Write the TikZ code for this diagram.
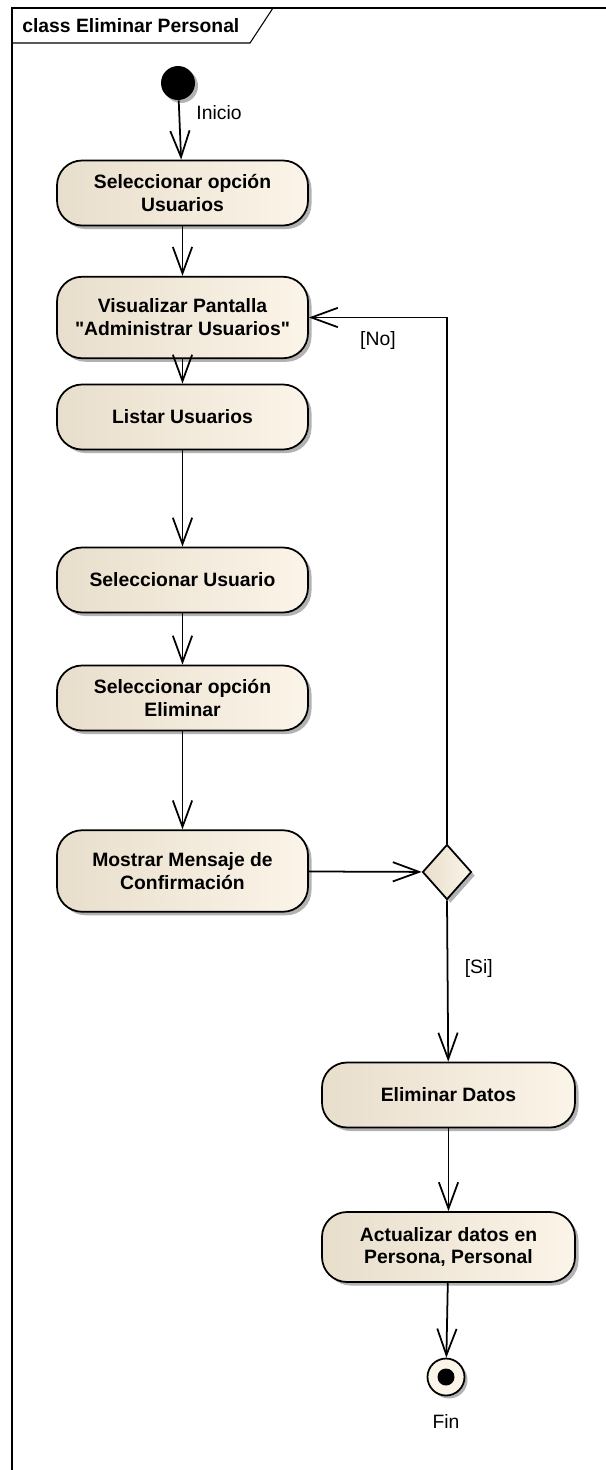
\documentclass[tikz,border=0pt]{standalone}
\usepackage{fontspec}
\setmainfont{Liberation Sans}[Ligatures=TeXOff]
\usepackage{tikz}
\usetikzlibrary{
	shapes, arrows.meta, shadows,
	positioning, calc
}
\definecolor{actleft}{RGB}{232,222,204}
\definecolor{actright}{RGB}{251,244,232}
\tikzstyle{act} = [rectangle, draw, line width=1pt, rounded corners=0.5cm,
	left color=actleft, right color=actright,
	drop shadow={shadow xshift=0.07cm, shadow yshift=-0.07cm, fill=black!30, opacity=1},
	minimum width=5.02cm, minimum height=1.3cm, align=center,
	font=\fontsize{11}{13}\selectfont\bfseries]
\tikzstyle{tall} = [minimum height=1.63cm]
\tikzstyle{line} = [draw, line width=1pt, -{Straight Barb[length=15pt,width=11pt,line width=1pt]}]
\tikzstyle{lbl} = [font=\fontsize{11}{13}\selectfont]

\begin{document}
\begin{tikzpicture}
    \useasboundingbox (0,0) rectangle (12.12,-29.4);
    %%% Frame:
    \draw[line width=0.6pt] (0.24,-29.4) -- (0.24,-0.16) -- (12.12,-0.16);
    \draw[line width=0.6pt] (0.24,-0.86) -- (5.0,-0.86) -- (5.46,-0.16);
    \node[anchor=west, inner sep=0, font=\fontsize{11}{13}\selectfont\bfseries] (title) at (0.44,-0.52) {class Eliminar Personal};
    %%% Start:
    \node[circle, fill=black, minimum size=0.68cm, inner sep=0,
      drop shadow={shadow xshift=0.06cm, shadow yshift=-0.06cm, fill=black!30, opacity=1}] (init) at (3.56,-1.66) {};
    %%% Left column:
    \node[act] (sel) at (3.65,-3.86) {Seleccionar opción\\Usuarios};
    \node[act, tall] (vis) at (3.65,-6.35) {Visualizar Pantalla\\"Administrar Usuarios"};
    \node[act] (list) at (3.65,-8.34) {Listar Usuarios};
    \node[act] (selu) at (3.65,-11.6) {Seleccionar Usuario};
    \node[act] (selel) at (3.65,-13.96) {Seleccionar opción\\Eliminar};
    \node[act, tall] (most) at (3.65,-17.42) {Mostrar Mensaje de\\Confirmación};
    %%% Decision:
    \node[diamond, draw, line width=1pt, inner sep=0, minimum width=0.98cm, minimum height=1.1cm,
      left color=actleft, right color=actright,
      drop shadow={shadow xshift=0.07cm, shadow yshift=-0.07cm, fill=black!30, opacity=1}] (dec) at (8.94,-17.44) {};
    %%% Right column:
    \node[act, minimum width=5.06cm] (elim) at (8.97,-21.9) {Eliminar Datos};
    \node[act, minimum width=5.06cm, minimum height=1.4cm] (actu) at (8.97,-24.94) {Actualizar datos en\\Persona, Personal};
    %%% End:
    \node[circle, draw, line width=1pt, minimum size=0.74cm, inner sep=0, fill=actright,
      drop shadow={shadow xshift=0.06cm, shadow yshift=-0.06cm, fill=black!30, opacity=1},
      label={[lbl, label distance=7pt]below:Fin}] (fin) at (8.92,-27.54) {};
    \node[circle, fill=black, minimum size=0.34cm, inner sep=0] (fin dot) at (fin) {};
    %%% Flows:
    \path [line] (init) -- node[lbl, pos=0.2, right=6pt] (inicio) {Inicio} (sel);
    \path [line] (sel) -- (vis);
    \path [line] (vis) -- (list);
    \path [line] (list) -- (selu);
    \path [line] (selu) -- (selel);
    \path [line] (selel) -- (most);
    \path [line] (most) -- (dec);
    \path [line] (dec.north) |- node[lbl, pos=0.75, below=4pt] (no) {[No]} (vis.east);
    \path [line] (dec.south) -- node[lbl, pos=0.42, right=6pt] (si) {[Si]} (elim);
    \path [line] (elim) -- (actu);
    \path [line] (actu) -- (fin);
  \end{tikzpicture}
\end{document}
